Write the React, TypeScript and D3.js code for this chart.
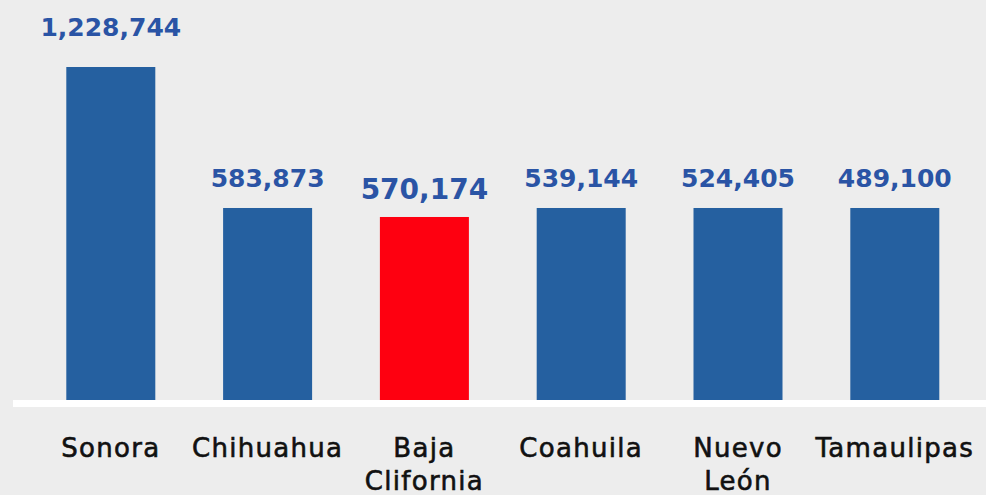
import React from "react";
import * as d3 from "d3";

const categories: string[][] = [
  ["Sonora"],
  ["Chihuahua"],
  ["Baja", "Clifornia"],
  ["Coahuila"],
  ["Nuevo", "León"],
  ["Tamaulipas"],
];
const values: number[] = [1228744, 583873, 570174, 539144, 524405, 489100];
// bar heights as drawn in the picture (the original is not to scale), in value units
const plottedLevels: number[] = [1228744, 708500, 675300, 708500, 708500, 708500];
const highlightIndex = 2;

const W = 986;
const H = 495;
const BASE = 400;

export default function App() {
  const keys = categories.map((c) => c.join(" "));
  const x = d3.scaleBand<string>().domain(keys).range([66.3, 939.3]).paddingInner(0.4324).paddingOuter(0);
  const y = d3.scaleLinear().domain([0, 1228744]).range([BASE, 67]);
  const fmt = d3.format(",");
  const blue = "#2560a0";
  const textBlue = "#2a54a5";
  const red = "#fe0010";
  const font = "'DejaVu Sans', sans-serif";

  return (
    <div style={{ position: "absolute", left: 0, top: 0, width: W, height: H }}>
      <svg width={W} height={H} style={{ display: "block" }}>
        <rect x={0} y={0} width={W} height={H} fill="#ededed" />
        {keys.map((k, i) => {
          const hi = i === highlightIndex;
          const top = y(plottedLevels[i]);
          return (
            <rect
              key={"b" + k}
              x={x(k)}
              y={top}
              width={x.bandwidth()}
              height={BASE - top}
              fill={hi ? red : blue}
            />
          );
        })}
        <rect x={13} y={BASE} width={W - 13} height={7} fill="#ffffff" />
        {keys.map((k, i) => {
          const hi = i === highlightIndex;
          const top = y(plottedLevels[i]);
          const gap = i === 0 ? 31 : hi ? 18 : 21;
          return (
            <text
              key={"v" + k}
              x={(x(k) as number) + x.bandwidth() / 2}
              y={top - gap}
              textAnchor="middle"
              fontFamily={font}
              fontWeight="bold"
              fontSize={hi ? 28 : 25}
              fill={textBlue}
            >
              {fmt(values[i])}
            </text>
          );
        })}
        {categories.map((lines, i) => {
          const k = keys[i];
          const cx = (x(k) as number) + x.bandwidth() / 2;
          return (
            <text
              key={"c" + k}
              x={cx}
              y={457}
              textAnchor="middle"
              fontFamily={font}
              fontSize={26}
              letterSpacing={1.3}
              fill="#111111"
              stroke="#111111"
              strokeWidth={0.6}
            >
              {lines.map((ln, j) => (
                <tspan key={j} x={cx} dy={j === 0 ? 0 : 33}>
                  {ln}
                </tspan>
              ))}
            </text>
          );
        })}
      </svg>
    </div>
  );
}
